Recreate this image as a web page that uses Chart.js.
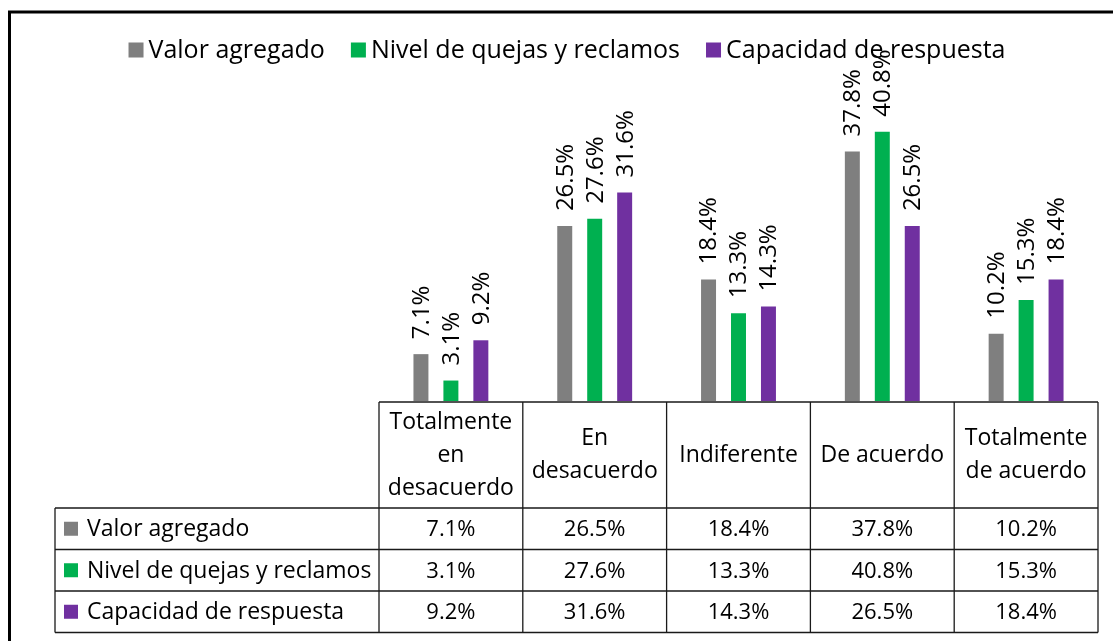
<!DOCTYPE html>
<html lang="es">
<head>
<meta charset="utf-8">
<title>Percepción del servicio</title>
<script src="https://cdn.jsdelivr.net/npm/chart.js@4.4.1/dist/chart.umd.min.js"></script>
<style>
  html, body { margin: 0; padding: 0; background: #fff; }
  #wrap { width: 1113px; height: 641px; position: relative; }
</style>
</head>
<body>
<div id="wrap"><canvas id="chart"></canvas></div>
<script>
// ------------------------------------------------------------
//  Datos
// ------------------------------------------------------------
const categorias = [
  ['Totalmente', 'en', 'desacuerdo'],
  ['En', 'desacuerdo'],
  ['Indiferente'],
  ['De acuerdo'],
  ['Totalmente', 'de acuerdo']
];
const nombresSeries  = ['Valor agregado', 'Nivel de quejas y reclamos', 'Capacidad de respuesta'];
const valorAgregado  = [7.1, 26.5, 18.4, 37.8, 10.2];
const nivelQuejas    = [3.1, 27.6, 13.3, 40.8, 15.3];
const capacidadResp  = [9.2, 31.6, 14.3, 26.5, 18.4];

// Colores estándar de Office
const COLORES = ['#7f7f7f', '#00b050', '#7030a0'];
const FUENTE  = '"Open Sans", "Noto Sans", sans-serif';

const pct = v => v.toFixed(1) + '%';

// ------------------------------------------------------------
//  Plugins de dibujo
// ------------------------------------------------------------

// Fondo y marco grueso (solo borde izquierdo y superior visibles)
const marco = {
  id: 'marco',
  beforeDraw(chart) {
    const c = chart.ctx;
    c.save();
    c.fillStyle = '#fff';
    c.fillRect(0, 0, chart.width, chart.height);
    c.strokeStyle = '#000';
    c.lineWidth = 3;
    c.beginPath();
    c.moveTo(9.5, chart.height);
    c.lineTo(9.5, 12);
    c.lineTo(chart.width, 12);
    c.stroke();
    c.restore();
  }
};

// Leyenda superior
const leyenda = {
  id: 'leyenda',
  afterDraw(chart) {
    const c = chart.ctx;
    c.save();
    c.font = '25px ' + FUENTE;
    c.textBaseline = 'middle';
    const caja = 15, sep = 5, hueco = 26, y = 50;
    const anchos = chart.data.datasets.map(d => caja + sep + c.measureText(d.label).width);
    const total = anchos.reduce((a, b) => a + b, 0) + hueco * (anchos.length - 1);
    let x = 567 - total / 2;
    chart.data.datasets.forEach((d, i) => {
      c.fillStyle = d.backgroundColor;
      c.fillRect(x, y - caja / 2, caja, caja);
      c.fillStyle = '#000';
      c.fillText(d.label, x + caja + sep, y + 1);
      x += anchos[i] + hueco;
    });
    c.restore();
  }
};

// Etiquetas verticales sobre cada barra
const etiquetas = {
  id: 'etiquetas',
  afterDatasetsDraw(chart) {
    const c = chart.ctx;
    c.save();
    c.font = '24px ' + FUENTE;
    c.fillStyle = '#000';
    c.textAlign = 'left';
    c.textBaseline = 'middle';
    chart.data.datasets.forEach((d, i) => {
      chart.getDatasetMeta(i).data.forEach((bar, j) => {
        c.save();
        c.translate(bar.x + 1, bar.y - 15);
        c.rotate(-Math.PI / 2);
        c.fillText(pct(d.data[j]), 0, 0);
        c.restore();
      });
    });
    c.restore();
  }
};

// Tabla de datos bajo el eje
const tabla = {
  id: 'tabla',
  afterDraw(chart) {
    const c = chart.ctx;
    const x = chart.scales.x;
    const n = categorias.length;
    const w = (x.right - x.left) / n;
    const arriba = 402, finCab = 508, altoFila = 41.5, izq = 55;
    const filas = chart.data.datasets.length;
    const abajo = finCab + altoFila * filas;

    c.save();
    c.strokeStyle = '#1a1a1a';
    c.lineWidth = 1.3;
    c.beginPath();
    // borde superior de la cabecera
    c.moveTo(x.left, arriba); c.lineTo(x.right, arriba);
    // líneas horizontales de filas
    for (let r = 0; r <= filas; r++) {
      const y = finCab + r * altoFila;
      c.moveTo(izq, y); c.lineTo(x.right, y);
    }
    // líneas verticales
    c.moveTo(izq, finCab); c.lineTo(izq, abajo);
    for (let k = 0; k <= n; k++) {
      const xx = x.left + k * w;
      c.moveTo(xx, arriba); c.lineTo(xx, abajo);
    }
    c.stroke();

    // cabecera de categorías
    c.fillStyle = '#000';
    c.font = '23px ' + FUENTE;
    c.textAlign = 'center';
    c.textBaseline = 'middle';
    const interlinea = 33;
    const medio = (arriba + finCab) / 2;
    categorias.forEach((lineas, k) => {
      const cx = x.getPixelForValue(k);
      const y0 = medio - (lineas.length - 1) * interlinea / 2;
      lineas.forEach((t, l) => c.fillText(t, cx, y0 + l * interlinea));
    });

    // filas de valores
    chart.data.datasets.forEach((d, r) => {
      const cy = finCab + r * altoFila + altoFila / 2;
      c.fillStyle = d.backgroundColor;
      c.fillRect(64, cy - 7, 14, 14);
      c.fillStyle = '#000';
      c.textAlign = 'left';
      c.font = '23px ' + FUENTE;
      c.fillText(d.label, 87, cy + 1);
      c.textAlign = 'center';
      c.font = '22px ' + FUENTE;
      d.data.forEach((v, k) => c.fillText(pct(v), x.getPixelForValue(k), cy + 1));
    });
    c.restore();
  }
};

// ------------------------------------------------------------
//  Gráfico
// ------------------------------------------------------------
const datos = [valorAgregado, nivelQuejas, capacidadResp];

new Chart(document.getElementById('chart'), {
  type: 'bar',
  data: {
    labels: categorias.map(l => l.join(' ')),
    datasets: nombresSeries.map((nombre, i) => ({
      label: nombre,
      data: datos[i],
      backgroundColor: COLORES[i],
      borderWidth: 0,
      categoryPercentage: 0.625,
      barPercentage: 0.5
    }))
  },
  options: {
    responsive: true,
    maintainAspectRatio: false,
    animation: false,
    layout: { padding: { left: 379, right: 15, top: 104, bottom: 240 } },
    plugins: {
      legend: { display: false },
      tooltip: { enabled: false }
    },
    scales: {
      x: { display: false, grid: { display: false } },
      y: { display: false, min: 0, max: 45, grid: { display: false } }
    }
  },
  plugins: [marco, leyenda, etiquetas, tabla]
});
</script>
</body>
</html>
